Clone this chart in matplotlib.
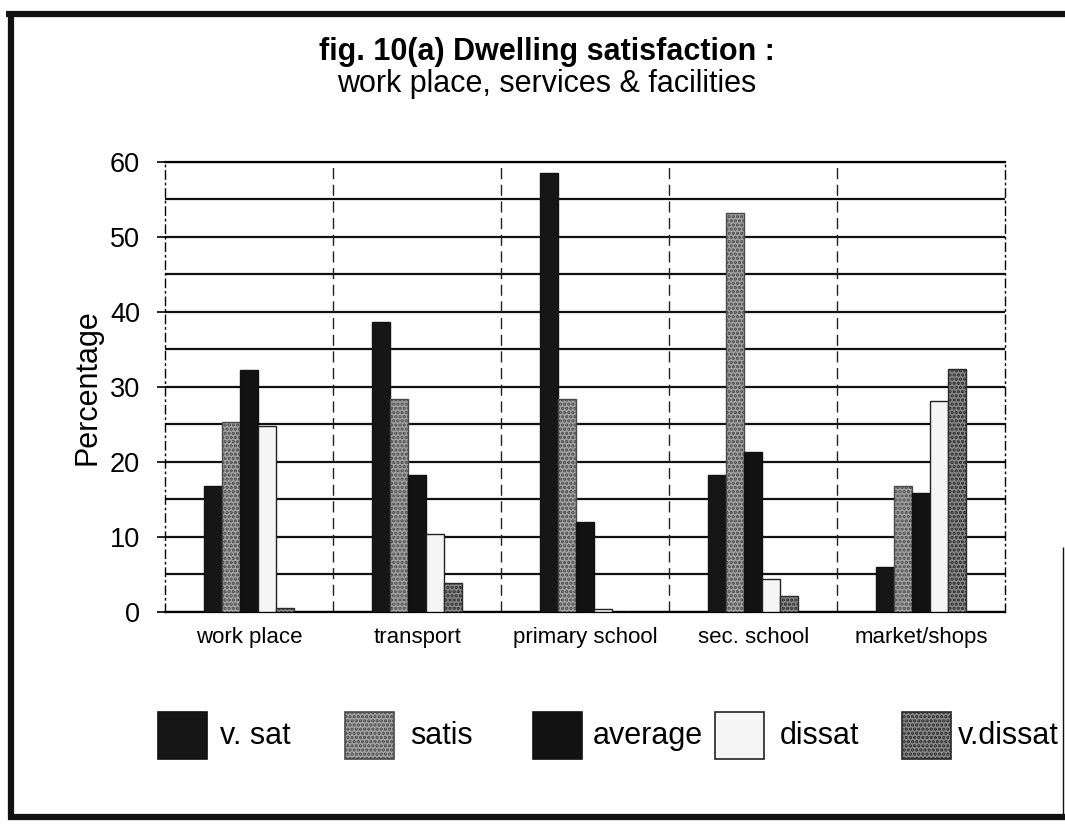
import matplotlib
matplotlib.use("Agg")
import matplotlib.pyplot as plt
from matplotlib.lines import Line2D
from matplotlib.patches import Rectangle
import numpy as np

plt.rcParams['font.family'] = ['Liberation Sans', 'DejaVu Sans']
plt.rcParams['hatch.linewidth'] = 1.6

categories = ["work place", "transport", "primary school", "sec. school", "market/shops"]
series_names = ["v. sat", "satis", "average", "dissat", "v.dissat"]
v_sat = [16.8, 38.6, 58.5, 18.2, 5.9]
satis = [25.3, 28.4, 28.3, 53.2, 16.7]
average = [32.2, 18.2, 12.0, 21.3, 15.8]
dissat = [24.8, 10.4, 0.4, 4.3, 28.1]
v_dissat = [0.5, 3.8, 0.0, 2.1, 32.3]
y_ticks = [0, 10, 20, 30, 40, 50, 60]

values = [v_sat, satis, average, dissat, v_dissat]
faces = ["#161616", "#a3a3a3", "#121212", "#f5f5f5", "#8a8a8a"]
edges = ["#111111", "#4a4a4a", "#111111", "#222222", "#2a2a2a"]
hatches = [None, "....", None, None, "...."]

fig = plt.figure(figsize=(10.65, 8.26), dpi=100)
ax = fig.add_axes([0.155, 0.2594, 0.789, 0.5448])

x = np.arange(len(categories))
w = 0.107
for i, vals in enumerate(values):
    ax.bar(x + (i - 2) * w, vals, width=w, color=faces[i], edgecolor=edges[i],
           hatch=hatches[i], linewidth=1.0, zorder=3)

ax.set_xlim(-0.5, 4.5)
ax.set_ylim(0, 60)
ax.set_yticks(y_ticks)
ax.set_yticks(np.arange(0, 61, 5), minor=True)
ax.tick_params(axis='y', which='major', length=6, width=1.2, direction='out',
               pad=12, labelsize=19.5)
ax.tick_params(axis='y', which='minor', length=0)
ax.set_xticks(x)
ax.set_xticklabels(categories, fontsize=16)
ax.tick_params(axis='x', length=0, pad=11)

# horizontal grid every 5 %
for yv in np.arange(0, 61, 5):
    ax.axhline(yv, color="#111111", lw=1.6, zorder=1)
# category separators
for xv in np.arange(0.5, 4.5, 1.0):
    ax.axvline(xv, color="#222222", lw=1.0, ls=(0, (8, 4)), zorder=1)

for s in ["left", "right"]:
    ax.spines[s].set_linestyle((0, (6, 3, 1, 3)))
    ax.spines[s].set_linewidth(1.0)
for s in ["top", "bottom"]:
    ax.spines[s].set_linewidth(1.6)

ax.set_ylabel("Percentage", fontsize=22, labelpad=5)

fig.text(0.5136, 1 - 60 / 826, "fig. 10(a) Dwelling satisfaction :", ha="center",
         va="baseline", fontsize=22, fontweight="bold")
fig.text(0.5136, 1 - 92 / 826, "work place, services & facilities", ha="center",
         va="baseline", fontsize=22)

# legend entries
patch_left = [158, 345, 533, 715, 902]
text_left = [220, 410, 593, 780, 958]
H = 826.0
Wd = 1065.0
for i, name in enumerate(series_names):
    x0 = patch_left[i]
    fig.patches.append(Rectangle((x0 / Wd, 1 - 759 / H), 49 / Wd, 47 / H,
                                 transform=fig.transFigure, facecolor=faces[i],
                                 edgecolor=edges[i], hatch=hatches[i], linewidth=1.2))
    fig.text(text_left[i] / Wd, 1 - 736 / H, name, ha="left", va="center", fontsize=22)

# outer frame
frame_kw = dict(transform=fig.transFigure, color="#111111", solid_capstyle="butt")
fig.lines.append(Line2D([6 / Wd, 1.0], [1 - 13.5 / H, 1 - 13.5 / H], lw=4.5, **frame_kw))
fig.lines.append(Line2D([11 / Wd, 11 / Wd], [1 - 11 / H, 1 - 820 / H], lw=4.5, **frame_kw))
fig.lines.append(Line2D([8 / Wd, 1.0], [1 - 817 / H, 1 - 817 / H], lw=4.5, **frame_kw))
fig.lines.append(Line2D([1063 / Wd, 1063 / Wd], [1 - 547 / H, 1 - 817 / H], lw=1.0, **frame_kw))

fig.savefig("out.png", dpi=100, facecolor="white")
